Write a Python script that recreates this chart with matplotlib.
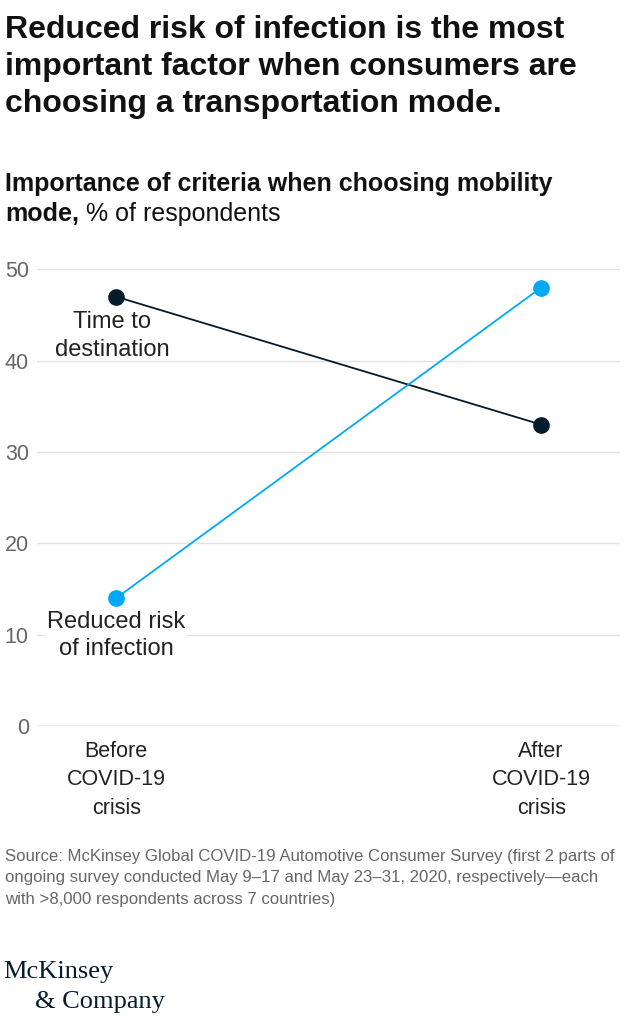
import matplotlib.pyplot as plt

periods = ["Before\nCOVID-19\ncrisis", "After\nCOVID-19\ncrisis"]
time_to_destination = [47, 33]
reduced_risk = [14, 48]
y_ticks = [0, 10, 20, 30, 40, 50]

NAVY = "#051c2c"
CYAN = "#00a9f4"
GREY = "#666666"

plt.rcParams["font.family"] = ["Liberation Sans", "DejaVu Sans"]

fig = plt.figure(figsize=(6.29, 10.24), dpi=100)
ax = fig.add_axes([0.059, 0.291, 0.927, 0.446])

x = list(range(len(periods)))
ax.plot(x, time_to_destination, color=NAVY, lw=1.3, marker="o", ms=11, zorder=3)
ax.plot(x, reduced_risk, color=CYAN, lw=1.3, marker="o", ms=11, zorder=3)

ax.set_xlim(-0.186, 1.186)
ax.set_ylim(0, 50)
ax.set_yticks(y_ticks)
ax.set_xticks(x)
ax.set_xticklabels(periods, fontsize=15.5, color="#222222", linespacing=1.45)
ax.tick_params(axis="x", length=0, pad=11)
ax.tick_params(axis="y", length=0, pad=6, labelsize=15.5, labelcolor=GREY)
for t in y_ticks:
    ax.axhline(t, color="#bbbbbb" if t == 0 else "#e2e2e2", lw=1, zorder=1)
for s in ax.spines.values():
    s.set_visible(False)

# series labels sit under the "before" points
ax.text(-0.01, 42.7, "Time to\ndestination", ha="center", va="center",
        fontsize=17, color="#222222", linespacing=1.3)
ax.text(0, 9.9, "Reduced risk\nof infection", ha="center", va="center",
        fontsize=17, color="#222222", linespacing=1.3,
        bbox=dict(facecolor="white", edgecolor="none", pad=1))

fig.text(0.008, 0.985, "Reduced risk of infection is the most\nimportant factor when consumers are\nchoosing a transportation mode.",
         ha="left", va="top", fontsize=23, fontweight="bold", color="#111111", linespacing=1.29)
fig.text(0.008, 0.832, "Importance of criteria when choosing mobility", ha="left", va="top",
         fontsize=18, fontweight="bold", color="#111111")
mode = fig.text(0.008, 0.803, "mode,", ha="left", va="top", fontsize=18, fontweight="bold", color="#111111")
fig.add_artist(plt.Annotation(" % of respondents", xy=(1, 0), xycoords=mode, ha="left", va="bottom",
                              fontsize=18, color="#111111"))

fig.text(0.008, 0.171, "Source: McKinsey Global COVID-19 Automotive Consumer Survey (first 2 parts of\n"
         "ongoing survey conducted May 9\u201317 and May 23\u201331, 2020, respectively\u2014each\n"
         "with >8,000 respondents across 7 countries)",
         ha="left", va="top", fontsize=12.1, color=GREY, linespacing=1.55)

fig.text(0.005, 0.045, "McKinsey", ha="left", va="baseline", family="Liberation Serif",
         fontsize=19, color=NAVY)
fig.text(0.056, 0.0156, "& Company", ha="left", va="baseline", family="Liberation Serif",
         fontsize=19, color=NAVY)

fig.savefig("out.png", dpi=100)
